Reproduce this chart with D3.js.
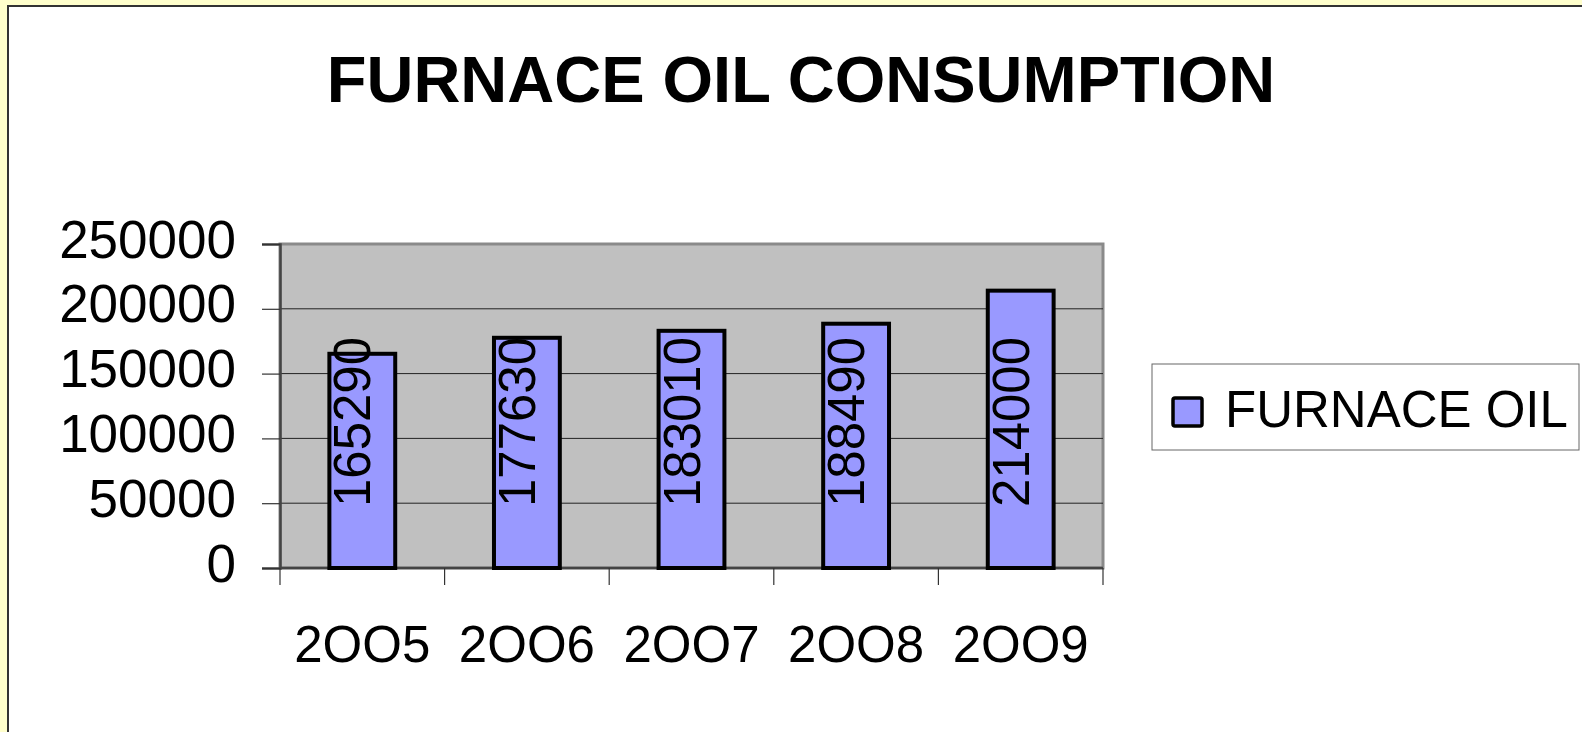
<!DOCTYPE html>
<html>
<head>
<meta charset="utf-8">
<script src="https://cdn.jsdelivr.net/npm/d3@7"></script>
<style>
  html, body { margin: 0; padding: 0; background: #ffffcc; overflow: hidden; }
  svg { display: block; font-family: "Liberation Sans", Arial, sans-serif; }
</style>
</head>
<body>
<svg id="chart" width="1582" height="732"></svg>
<script>
// chart data
const years = ["2OO5", "2OO6", "2OO7", "2OO8", "2OO9"];
const furnaceOil = [165290, 177630, 183010, 188490, 214000];
const yTicks = [0, 50000, 100000, 150000, 200000, 250000];
const seriesName = "FURNACE OIL";
const chartTitle = "FURNACE OIL CONSUMPTION";

const svg = d3.select("#chart");
const plot = { left: 280, top: 244, right: 1103, bottom: 568 };

// white chart panel
svg.append("rect")
    .attr("x", 8).attr("y", 6)
    .attr("width", 1600).attr("height", 760)
    .attr("fill", "#ffffff")
    .attr("stroke", "#333333")
    .attr("stroke-width", 2);

const x = d3.scaleBand()
    .domain(years)
    .range([plot.left, plot.right])
    .padding(0);

const y = d3.scaleLinear()
    .domain([0, 250000])
    .range([plot.bottom, plot.top]);

// plot background
svg.append("rect")
    .attr("x", plot.left).attr("y", plot.top)
    .attr("width", plot.right - plot.left)
    .attr("height", plot.bottom - plot.top)
    .attr("fill", "#c0c0c0")
    .attr("stroke", "#8a8a8a")
    .attr("stroke-width", 3);

// gridlines
svg.append("g")
    .selectAll("line")
    .data(yTicks.filter(d => d > 0 && d < 250000))
    .join("line")
    .attr("x1", plot.left).attr("x2", plot.right)
    .attr("y1", d => y(d)).attr("y2", d => y(d))
    .attr("stroke", "#222")
    .attr("stroke-width", 1);

// y axis
const yAxis = svg.append("g")
    .attr("transform", `translate(${plot.left},0)`)
    .call(d3.axisLeft(y).tickValues(yTicks).tickSize(18).tickPadding(26).tickFormat(d3.format("d")));
yAxis.select(".domain").attr("stroke", "#444").attr("stroke-width", 2.5);
yAxis.selectAll(".tick line").attr("stroke", "#333").attr("stroke-width", 1.2);
yAxis.selectAll(".tick text")
    .attr("font-size", 53)
    .attr("fill", "#000")
    .attr("dy", 13)
    .attr("font-family", "Liberation Sans, Arial, sans-serif");

// x axis (ticks at category boundaries)
const boundaries = years.map(d => x(d)).concat([plot.right]);
const xAxis = svg.append("g");
xAxis.append("line")
    .attr("x1", plot.left).attr("x2", plot.right)
    .attr("y1", plot.bottom).attr("y2", plot.bottom)
    .attr("stroke", "#444").attr("stroke-width", 2.5);
xAxis.selectAll(".xtick")
    .data(boundaries)
    .join("line")
    .attr("class", "xtick")
    .attr("x1", d => d).attr("x2", d => d)
    .attr("y1", plot.bottom).attr("y2", plot.bottom + 17)
    .attr("stroke", "#333").attr("stroke-width", 1.2);
xAxis.selectAll(".xlabel")
    .data(years)
    .join("text")
    .attr("class", "xlabel")
    .attr("x", d => x(d) + x.bandwidth() / 2)
    .attr("y", 662)
    .attr("text-anchor", "middle")
    .attr("font-size", 51)
    .text(d => d);

// bars
const barW = x.bandwidth() * 0.4;
svg.append("g")
    .selectAll("rect")
    .data(furnaceOil)
    .join("rect")
    .attr("x", (d, i) => x(years[i]) + x.bandwidth() / 2 - barW / 2)
    .attr("y", d => y(d))
    .attr("width", barW)
    .attr("height", d => y(0) - y(d))
    .attr("fill", "#9999ff")
    .attr("stroke", "#000")
    .attr("stroke-width", 4);

// rotated value labels
svg.append("g")
    .selectAll("text")
    .data(furnaceOil)
    .join("text")
    .attr("transform", (d, i) => `translate(${x(years[i]) + x.bandwidth() / 2 + 8},422) rotate(-90)`)
    .attr("text-anchor", "middle")
    .attr("font-size", 51)
    .text(d => d);

// title
svg.append("text")
    .attr("x", 801)
    .attr("y", 102)
    .attr("text-anchor", "middle")
    .attr("font-size", 65)
    .attr("font-weight", "bold")
    .text(chartTitle);

// legend
const legend = svg.append("g");
legend.append("rect")
    .attr("x", 1152).attr("y", 364)
    .attr("width", 427).attr("height", 86)
    .attr("fill", "#fff")
    .attr("stroke", "#666")
    .attr("stroke-width", 1);
legend.append("rect")
    .attr("x", 1173).attr("y", 398)
    .attr("width", 29).attr("height", 28)
    .attr("rx", 2)
    .attr("fill", "#9999ff")
    .attr("stroke", "#000")
    .attr("stroke-width", 3.5);
legend.append("text")
    .attr("x", 1225)
    .attr("y", 427)
    .attr("font-size", 51)
    .text(seriesName);
</script>
</body>
</html>
